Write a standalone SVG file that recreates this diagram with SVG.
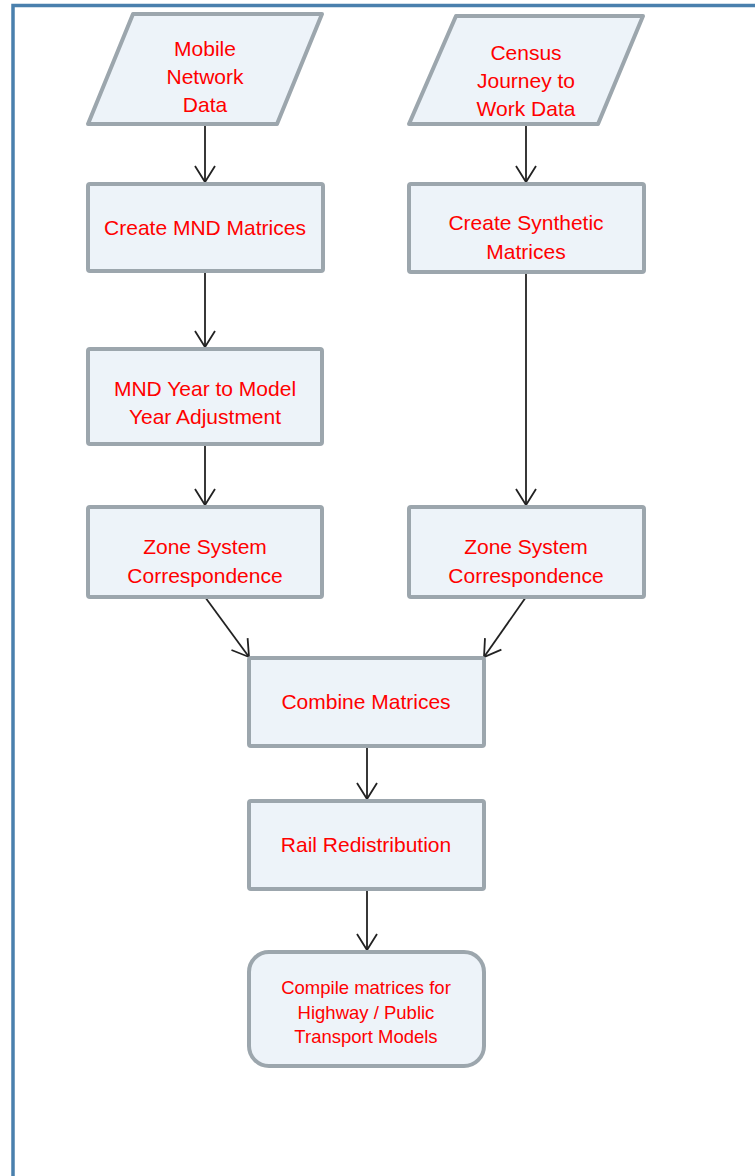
<svg xmlns="http://www.w3.org/2000/svg" width="755" height="1176" viewBox="0 0 755 1176">
<defs>
<style>
.n{fill:#edf3f9;stroke:#9ca6ad;stroke-width:4;stroke-linejoin:round}
.t{font-family:"Liberation Sans",Arial,sans-serif;font-size:21px;fill:#ff0000;text-anchor:middle}
.s{font-size:18.5px}
.c{stroke:#222;stroke-width:1.8;fill:none}
</style>
<marker id="ah" viewBox="0 0 20 24" refX="18" refY="12" markerWidth="20" markerHeight="24" markerUnits="userSpaceOnUse" orient="auto">
<path d="M2,2 L18,12 L2,22" fill="none" stroke="#222" stroke-width="1.8"/>
</marker>
</defs>
<rect width="755" height="1176" fill="#fff"/>
<path d="M13,1176 V5.5 H755" fill="none" stroke="#4a80ad" stroke-width="3.5"/>
<g id="connectors">
<line class="c" x1="205" y1="124" x2="205" y2="182" marker-end="url(#ah)"/>
<line class="c" x1="205" y1="271" x2="205" y2="347" marker-end="url(#ah)"/>
<line class="c" x1="205" y1="444" x2="205" y2="505" marker-end="url(#ah)"/>
<line class="c" x1="526" y1="124" x2="526" y2="182" marker-end="url(#ah)"/>
<line class="c" x1="526" y1="272" x2="526" y2="505" marker-end="url(#ah)"/>
<line class="c" x1="205" y1="597" x2="249" y2="657" marker-end="url(#ah)"/>
<line class="c" x1="526" y1="597" x2="484" y2="657" marker-end="url(#ah)"/>
<line class="c" x1="367" y1="746" x2="367" y2="799" marker-end="url(#ah)"/>
<line class="c" x1="367" y1="889" x2="367" y2="950" marker-end="url(#ah)"/>
</g>
<g id="mobile">
<polygon class="n" points="133,14 322,14 277,124 88,124"/>
<text class="t" x="205" y="55.7">Mobile</text>
<text class="t" x="205" y="83.7">Network</text>
<text class="t" x="205" y="111.7">Data</text>
</g>
<g id="census">
<polygon class="n" points="456,16 643,16 598,124 409,124"/>
<text class="t" x="526" y="59.7">Census</text>
<text class="t" x="526" y="87.7">Journey to</text>
<text class="t" x="526" y="115.7">Work Data</text>
</g>
<g id="createmnd">
<rect class="n" x="88" y="184" width="235" height="87" rx="2"/>
<text class="t" x="205" y="234.7">Create MND Matrices</text>
</g>
<g id="createsyn">
<rect class="n" x="409" y="184" width="235" height="88" rx="2"/>
<text class="t" x="526" y="229.7">Create Synthetic</text>
<text class="t" x="526" y="258.7">Matrices</text>
</g>
<g id="mndyear">
<rect class="n" x="88" y="349" width="234" height="95" rx="2"/>
<text class="t" x="205" y="395.7">MND Year to Model</text>
<text class="t" x="205" y="423.7">Year Adjustment</text>
</g>
<g id="zoneleft">
<rect class="n" x="88" y="507" width="234" height="90" rx="2"/>
<text class="t" x="205" y="553.7">Zone System</text>
<text class="t" x="205" y="582.7">Correspondence</text>
</g>
<g id="zoneright">
<rect class="n" x="409" y="507" width="235" height="90" rx="2"/>
<text class="t" x="526" y="553.7">Zone System</text>
<text class="t" x="526" y="582.7">Correspondence</text>
</g>
<g id="combine">
<rect class="n" x="249" y="658" width="235" height="88" rx="2"/>
<text class="t" x="366" y="708.7">Combine Matrices</text>
</g>
<g id="rail">
<rect class="n" x="249" y="801" width="235" height="88" rx="2"/>
<text class="t" x="366" y="851.7">Rail Redistribution</text>
</g>
<g id="compile">
<rect class="n" x="249" y="952" width="235" height="114" rx="20"/>
<text class="t s" x="366" y="993.8">Compile matrices for</text>
<text class="t s" x="366" y="1018.8">Highway / Public</text>
<text class="t s" x="366" y="1042.8">Transport Models</text>
</g>
</svg>
